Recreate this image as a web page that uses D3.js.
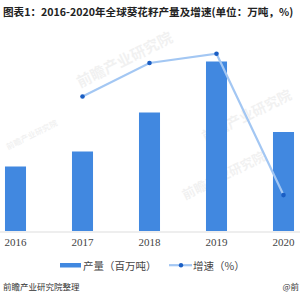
<!DOCTYPE html>
<html>
<meta charset="utf-8">
<title>全球葵花籽产量及增速</title>
<style>
  html, body { margin: 0; padding: 0; background: #fff; }
  .title { font-family: "Noto Sans CJK SC", sans-serif; font-weight: bold; font-size: 10.6px; fill: #222; }
  .tick text { font-family: "Liberation Serif", "DejaVu Serif", serif; font-size: 11px; fill: #444; }
  .legend text { font-family: "Noto Sans CJK SC", sans-serif; font-size: 10.5px; fill: #444; }
  .source { font-family: "Noto Sans CJK SC", sans-serif; font-size: 8.5px; fill: #333; }
  .wm { font-family: "Noto Sans CJK SC", sans-serif; font-weight: bold; fill: #000; opacity: 0.05; }
</style>
<body>
<div id="chart"></div>
<script src="https://d3js.org/d3.v7.min.js"></script>
<script>
// 2016-2020 sunflower seed output (million t) and growth (%)
var years = ["2016", "2017", "2018", "2019", "2020"];
var output = [47.3, 48.3, 50.9, 54.3, 49.6];
var growth = [null, 2.0, 5.6, 6.6, -8.6];

var width = 300, height = 300;

var svg = d3.select("#chart").append("svg")
    .attr("width", width)
    .attr("height", height);

// band scale runs a bit past the frame on both sides, like the original crop
var x = d3.scaleBand()
    .domain(years)
    .range([-18, 317])
    .paddingInner(0.686)
    .paddingOuter(0.343);

var y = d3.scaleLinear().domain([43, 58]).range([231, 6]);
var y2 = d3.scaleLinear().domain([-10, 12]).range([208.1, 3.5]);

svg.append("text")
    .attr("class", "title")
    .attr("x", 3).attr("y", 16)
    .text("图表1：2016-2020年全球葵花籽产量及增速(单位：万吨，%)");

// faint watermarks
[[80, 88, 15], [205, 142, 14], [185, 200, 13], [8, 150, 8]].forEach(function(w) {
    svg.append("text")
        .attr("class", "wm")
        .attr("font-size", w[2])
        .attr("transform", "translate(" + w[0] + "," + w[1] + ") rotate(-26.5)")
        .text("前瞻产业研究院");
});

svg.append("g").selectAll("rect")
    .data(output)
    .enter().append("rect")
    .attr("x", function(d, i) { return x(years[i]); })
    .attr("y", function(d) { return y(d); })
    .attr("width", x.bandwidth())
    .attr("height", function(d) { return y(43) - y(d); })
    .attr("fill", "#4188e0");

var xAxis = svg.append("g")
    .attr("transform", "translate(0,231.5)")
    .call(d3.axisBottom(x).tickSize(0).tickPadding(7));
xAxis.select(".domain").attr("stroke", "#ddd").attr("stroke-width", 1.2);

var pts = years.map(function(d, i) { return { year: d, v: growth[i] }; })
    .filter(function(d) { return d.v !== null; });

var line = d3.line()
    .x(function(d) { return x(d.year) + x.bandwidth() / 2; })
    .y(function(d) { return y2(d.v); });

svg.append("path")
    .datum(pts)
    .attr("d", line)
    .attr("fill", "none")
    .attr("stroke", "#a3c7f3")
    .attr("stroke-width", 2.2);

svg.append("g").selectAll("circle")
    .data(pts)
    .enter().append("circle")
    .attr("cx", function(d) { return x(d.year) + x.bandwidth() / 2; })
    .attr("cy", function(d) { return y2(d.v); })
    .attr("r", 2.3)
    .attr("fill", "#1a5ec4");

// legend
var lg = svg.append("g").attr("class", "legend");
lg.append("rect").attr("x", 60).attr("y", 263).attr("width", 21).attr("height", 4.5).attr("fill", "#4188e0");
lg.append("text").attr("x", 83).attr("y", 269.5).text("产量（百万吨）");
lg.append("line").attr("x1", 169).attr("x2", 192).attr("y1", 265.2).attr("y2", 265.2)
    .attr("stroke", "#a3c7f3").attr("stroke-width", 2.2);
lg.append("circle").attr("cx", 181).attr("cy", 265.2).attr("r", 2.2).attr("fill", "#1a5ec4");
lg.append("text").attr("x", 193).attr("y", 269.5).text("增速（%）");

svg.append("text").attr("class", "source").attr("x", 3).attr("y", 290).text("前瞻产业研究院整理");
svg.append("text").attr("class", "source").attr("x", 299).attr("y", 290)
    .attr("text-anchor", "end").attr("fill", "#666").text("@前");
</script>
</body>
</html>
